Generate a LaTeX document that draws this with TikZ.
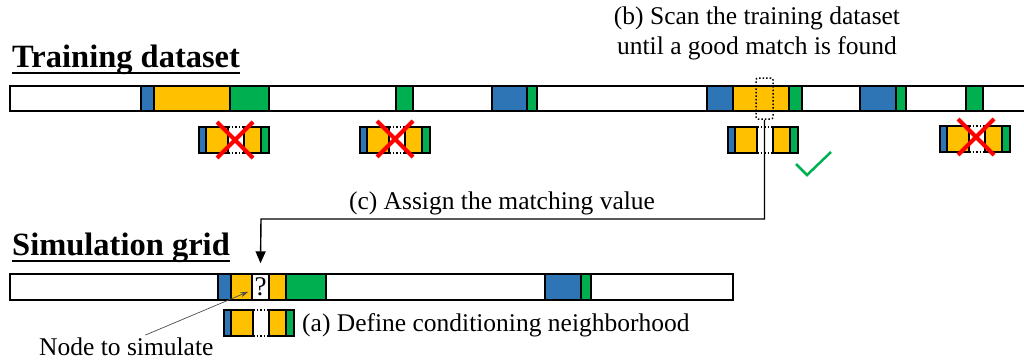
\documentclass[tikz,border=0pt]{standalone}
\usepackage{fontspec}
\setmainfont{Liberation Serif}
\usetikzlibrary{arrows.meta}

\definecolor{cblue}{RGB}{46,117,182}
\definecolor{cyellow}{RGB}{255,192,0}
\definecolor{cgreen}{RGB}{0,176,80}
\definecolor{xred}{RGB}{255,0,0}

\tikzset{
	cell/.style={draw=black, line width=1.4pt},
	bar/.style={draw=black, line width=1.8pt},
	cross/.style={draw=xred, line width=4pt},
	txt/.style={inner sep=0pt, font=\fontsize{25.5}{30}\selectfont},
	heading/.style={inner sep=0pt, font=\fontsize{32.5}{36}\selectfont\bfseries},
}

\begin{document}
\begin{tikzpicture}[x=1pt,y=-1pt]
	\useasboundingbox (0,0) rectangle (1024,359);
	\clip (0,0) rectangle (1024,359);
	% Training dataset
	\node[heading, anchor=base west] (train) at (12,67) {Training dataset};
	\draw[line width=1.6pt] ([yshift=-6pt]train.base west) -- ([yshift=-6pt]train.base east);
	\fill[white] (10,86) rectangle (1030,111);
	\foreach \a/\b/\c in {141/154/cblue, 154/230/cyellow, 230/269/cgreen,
		396/413/cgreen, 492/527/cblue, 527/537/cgreen,
		707/733/cblue, 733/789/cyellow, 789/802/cgreen,
		860/896/cblue, 896/906/cgreen, 966/983/cgreen}{
		\filldraw[cell, fill=\c] (\a,86) rectangle (\b,111);
	}
	\draw[bar] (10,86) rectangle (1030,111);
	\node[draw, dotted, line width=1.5pt, rounded corners=2pt, minimum width=17pt,
		minimum height=41pt, inner sep=0pt] (match) at (764.5,98.5) {};
	\node[txt, align=center] (scan) at (757,33) {(b) Scan the training dataset\\until a good match is found};
	% Simulation grid
	\node[heading, anchor=base west] (sim) at (12,255) {Simulation grid};
	\draw[line width=1.6pt] ([yshift=-6pt]sim.base west) -- ([yshift=-6pt]sim.base east);
	\fill[white] (10,274) rectangle (733,300);
	\foreach \a/\b/\c in {218/231/cblue, 231/252/cyellow, 269/286/cyellow,
		286/326/cgreen, 545/581/cblue, 581/591/cgreen}{
		\filldraw[cell, fill=\c] (\a,274) rectangle (\b,300);
	}
	\node[cell, minimum width=17pt, minimum height=26pt, inner sep=0pt,
		font=\fontsize{27}{27}\selectfont] (qcell) at (260.5,287) {?};
	\draw[bar] (10,274) rectangle (733,300);
	% Neighborhoods
	\foreach \x/\y in {199/127, 360/127, 728/127, 940/126, 224/310}{
		\filldraw[cell, fill=cblue] (\x,\y) rectangle ++(7,26);
		\filldraw[cell, fill=cyellow] ({\x+7},\y) rectangle ++(22,26);
		\filldraw[cell, fill=cyellow] ({\x+45},\y) rectangle ++(17,26);
		\filldraw[cell, fill=cgreen] ({\x+62},\y) rectangle ++(8,26);
		\draw[dotted, line width=1.5pt] ({\x+29},\y) -- ({\x+45},\y)
			({\x+29},{\y+26}) -- ({\x+45},{\y+26});
	}
	\foreach \x/\y in {235/140, 395/139, 976/137}{
		\draw[cross] ({\x-18},{\y-18}) -- ({\x+18},{\y+18})
			({\x-18},{\y+18}) -- ({\x+18},{\y-18});
	}
	\draw[cgreen, line width=2.5pt] (796,164) -- (807,175) -- (831,152);
	% Connectors
	\node[txt] (assign) at (502,203) {(c) Assign the matching value};
	\coordinate (bend) at (261,219);
	\draw[line width=1.4pt, -{Triangle[width=10pt,length=12pt]}] (match.south) |- (bend)
		-- ([yshift=10pt]qcell.north);
	\node[txt, anchor=west] (define) at (302,325) {(a) Define conditioning neighborhood};
	\node[txt, anchor=base west] (target) at (39,355) {Node to simulate};
	\draw[gray!60!black, line width=0.7pt, -{Stealth[length=8pt,width=5pt]}]
		([xshift=19pt,yshift=2pt]target.north) -- ([xshift=-3pt,yshift=9pt]qcell.south west);
\end{tikzpicture}
\end{document}
